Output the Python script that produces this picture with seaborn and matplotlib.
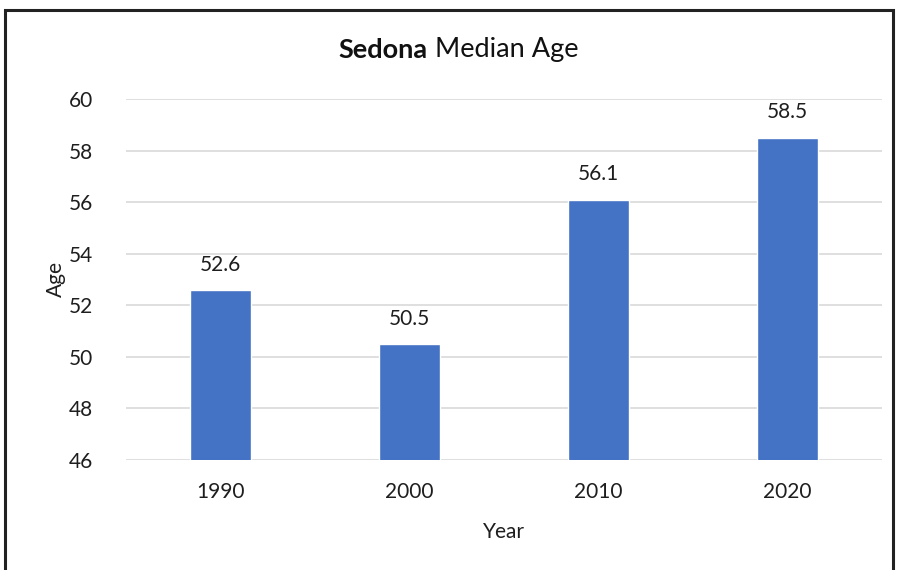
import matplotlib
matplotlib.use("Agg")
import matplotlib.pyplot as plt
import seaborn as sns
import pandas as pd
from matplotlib.patches import Rectangle

years = ["1990", "2000", "2010", "2020"]
median_age = [52.6, 50.5, 56.1, 58.5]
y_ticks = [46, 48, 50, 52, 54, 56, 58, 60]

df = pd.DataFrame({"Year": years, "Age": median_age})

sns.set_style("white")
plt.rcParams["font.family"] = ["Lato", "DejaVu Sans"]
text_color = "#1e1e1e"

fig = plt.figure(figsize=(8.97, 5.70), dpi=100)
ax = fig.add_axes([0.1405, 0.193, 0.8428, 0.6333])

sns.barplot(data=df, x="Year", y="Age", color="#4472C4", width=0.32,
            saturation=1, ax=ax, zorder=3)

ax.set_ylim(46, 60)
ax.set_yticks(y_ticks)
ax.grid(axis="y", color="#d9d9d9", linewidth=1.2, zorder=0)
for s in ax.spines.values():
    s.set_visible(False)
ax.tick_params(axis="both", length=0, labelsize=15, labelcolor=text_color)
ax.tick_params(axis="y", pad=24)
ax.tick_params(axis="x", pad=16)

for i, v in enumerate(median_age):
    ax.annotate(f"{v}", (i, v), xytext=(0, 11), textcoords="offset points",
                ha="center", va="bottom", fontsize=15, color=text_color)

ax.set_xlabel("Year", fontsize=15, color=text_color, labelpad=14)
ax.set_ylabel("Age", fontsize=15, color=text_color, labelpad=2)

# title: bold city name followed by regular text
fig.text(0.477, 0.913, "Sedona", fontsize=19.5, fontweight="bold", ha="right",
         va="center", color="#111111")
fig.text(0.477, 0.913, " Median Age", fontsize=19.5, ha="left", va="center",
         color="#111111")

fig.patches.append(Rectangle((0.0056, -0.02), 0.99, 1.0025, transform=fig.transFigure,
                             fill=False, edgecolor="#222222", linewidth=2.2))

fig.savefig("out.png", dpi=100)
